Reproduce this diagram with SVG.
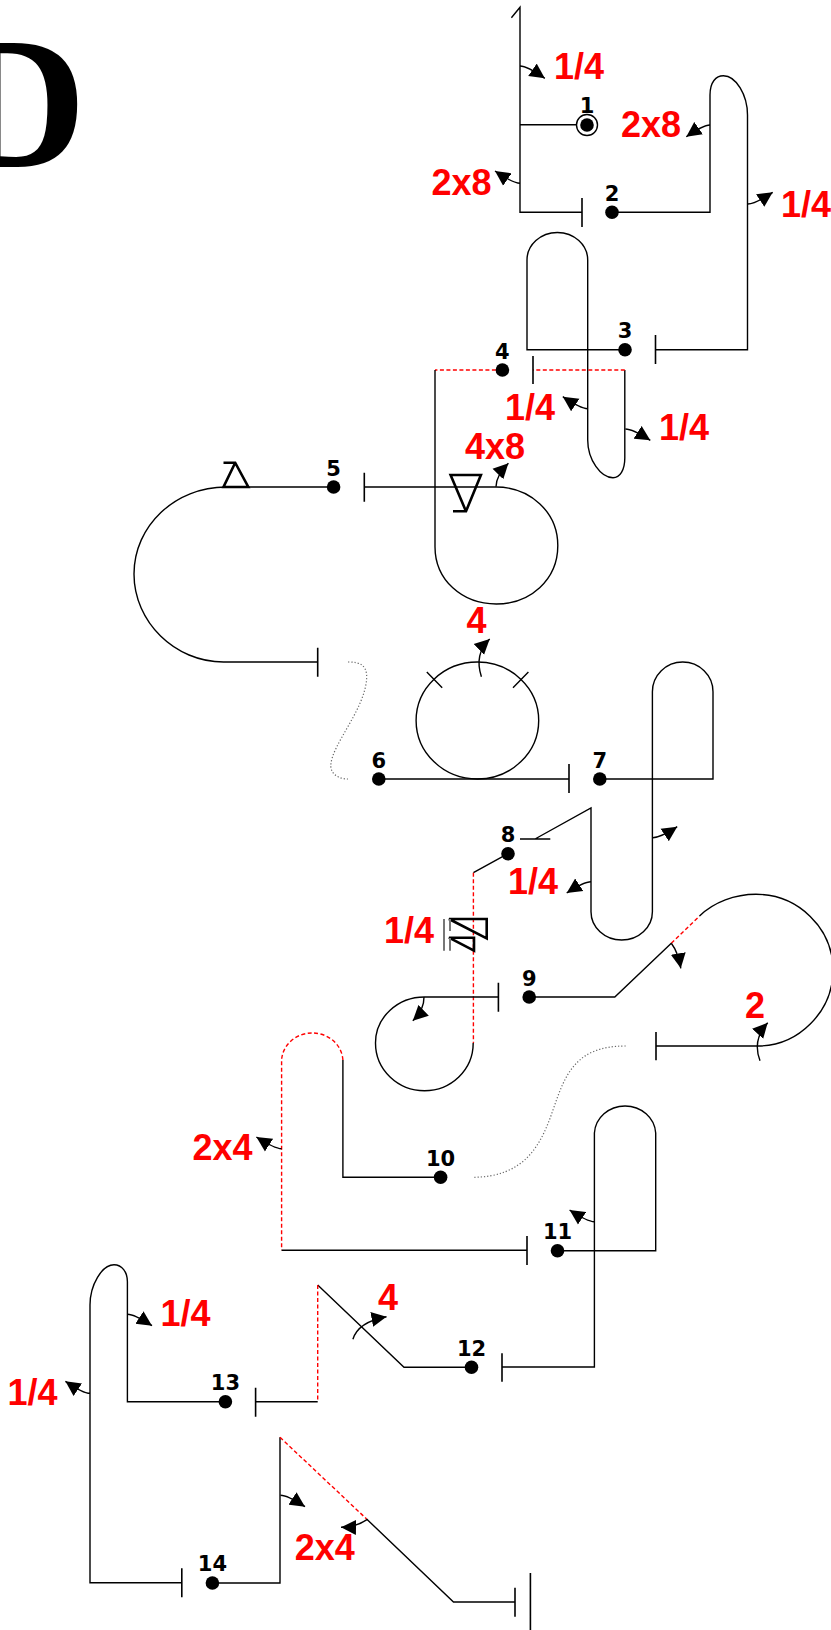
<svg xmlns="http://www.w3.org/2000/svg" width="831" height="1630" viewBox="0 0 831 1630">
<style>
.l{fill:none;stroke:#000;stroke-width:1.4}
.t{fill:none;stroke:#000;stroke-width:1.6}
.g{fill:none;stroke:#000;stroke-width:2.6}
.r{fill:none;stroke:#f00;stroke-width:1.4;stroke-dasharray:4 2.5}
.d{fill:none;stroke:#666;stroke-width:1.2;stroke-dasharray:1.2 2}
.a{fill:none;stroke:#000;stroke-width:1.4;marker-end:url(#h)}
.n{font:bold 21px "DejaVu Sans",sans-serif;fill:#000;text-anchor:middle}
.v{font:bold 36px "Liberation Sans",Arial,sans-serif;fill:#f00}
</style>
<defs>
<marker id="h" markerUnits="userSpaceOnUse" markerWidth="16" markerHeight="16" viewBox="0 0 16 16" refX="15" refY="8" orient="auto">
<path d="M0 0.5L15 8L0 15.5Z" fill="#000"/>
</marker>
</defs>
<rect width="831" height="1630" fill="#fff"/>
<text transform="translate(-46.3 166.7) scale(.97 1)" font-family="'Liberation Serif',serif" font-weight="bold" font-size="189" fill="#000">D</text>
<g id="connectors">
<path class="l" d="M511.4 17.7L520 7.3V212.3H582M520 124.7H587M612 212.3H710V95C710 82 716 75.7 723.4 75.7C736 75.7 747.5 95 747.5 115V349.7H655.5"/>
<path class="l" d="M625 349.7H527V260A30.3 27.5 0 0 1 587.7 260V440C587.7 460 601 477.7 613 477.7C620 477.7 624.8 470 624.8 458V370"/>
<path class="r" d="M624.8 370H533M502.4 370H435"/>
<path class="l" d="M435 370V546.7C435 580 462 604 496.3 604C530 604 557.8 580 557.8 545.5C557.8 512 530 487 496 487H364.3M333.6 487H226C175 487 134 526 134 574C134 622 175 662 223.5 662H317.7"/>
<path class="d" d="M348 662C360 662 367 665 366.7 678C365 710 331 745 330.8 766C331 775 340 779 348 779"/>
<ellipse class="l" cx="477.4" cy="720.5" rx="61.3" ry="58.5"/>
<path class="l" d="M426.8 672L442.2 687.7M528.4 672L513 687.7"/>
<path class="l" d="M378.8 779H569M599.8 779H713V691.7A30.3 29.7 0 0 0 652.4 691.7V911.7A30.7 28.3 0 0 1 591 911.7V808L535 839M520 839H550.3M508 853.7L473.4 872.7"/>
<path class="r" d="M473.4 872.7V1043"/>
<path class="l" d="M473.2 1043C473.2 1070 451 1090.7 424.5 1090.7C398 1090.7 375.5 1070 375.5 1043C375.5 1017 398 997 424.5 997H498.4M529.2 997H614.8L671.3 943.3"/>
<path class="r" d="M671.3 943.3L699.5 916"/>
<path class="l" d="M699.5 916C714 902 735 894.3 756 894.3C798 894.3 833 928 833 970C833 1012 798 1046 758 1046H656"/>
<path class="d" d="M625.7 1046C575 1046 565 1075 553 1110C541 1145 525 1177.3 472.3 1177.3"/>
<path class="r" d="M342.9 1060A30.7 28.7 0 0 0 281.6 1060V1250.3"/>
<path class="l" d="M342.9 1060V1177.3H440.6M281.6 1250.3H527M557.5 1250.7H655.7V1133A30.7 28.7 0 0 0 594.4 1133V1367H502M471.5 1367.3H404L317.7 1285"/>
<path class="r" d="M317.7 1285V1401.7"/>
<path class="l" d="M317.7 1401.7H255.6M225.4 1401.7H127.4V1281.7C127.4 1272 122 1264.7 114 1264.7C102 1264.7 90 1285 90 1305V1582.7H181.8M212.4 1583H280V1437.3"/>
<path class="r" d="M280 1437.3L366.6 1519"/>
<path class="l" d="M366.6 1519L453.5 1602H515"/>
<g id="ticks">
<path class="t" d="M582 198V227M655.5 335V364M533 356V384M364.3 472.7V501.7M317.7 647.7V676.7M569 764V793M498.4 982.7V1011.7M656 1032V1060.3M527 1236V1265M502 1353.3V1381.7M255.6 1387.7V1416.7M181.8 1568.3V1597.3M515 1587.7V1616.7M530.4 1573V1630"/>
</g>
<g id="triangles">
<path class="g" d="M223.5 462.7H235.2L248.3 487H223.5L235.2 462.7"/>
<path class="g" d="M453 511.3H466L480.9 475H450.6L466 511.3"/>
<path class="g" d="M449 919H486.7V938.3ZM449 937.7H474V950.7Z"/>
<path fill="none" stroke="#777" stroke-width="2" d="M444 919V950.7M450 919V931M450 938V950.7"/>
</g>
<g id="arrows">
<path class="a" d="M520 66Q527 66 544.8 78.3"/>
<path class="a" d="M710 125Q703 125 686.3 136.7"/>
<path class="a" d="M520 183.3Q513 183.3 495 171"/>
<path class="a" d="M747.8 204Q755 204 772.7 192.3"/>
<path class="a" d="M587.7 408.7Q580.7 408.7 562.8 396.7"/>
<path class="a" d="M625.4 429Q632.4 429 650.3 440.3"/>
<path class="a" d="M496 486.7Q496 476 508.4 463.3"/>
<path class="a" d="M481.4 676.7Q474 654 489.7 639"/>
<path class="a" d="M652.4 837.7Q660 838 677.2 826.7"/>
<path class="a" d="M591 881.7Q584 881.7 566.7 893"/>
<path class="a" d="M424 997Q424 1010 412.8 1020.7"/>
<path class="a" d="M671.3 943.3Q678 952 680.8 968.3"/>
<path class="a" d="M760 1060.7Q752 1040 767.7 1022.7"/>
<path class="a" d="M281.6 1148.7Q274.6 1148.7 256.4 1137"/>
<path class="a" d="M594.4 1221.7Q587.4 1221.7 569.6 1210"/>
<path class="a" d="M127.4 1314.3Q134.4 1314.3 152 1325.7"/>
<path class="a" d="M90 1393.3Q83 1393.3 65.4 1381.3"/>
<path class="a" d="M352.9 1339.3Q358 1322 386.5 1316.7"/>
<path class="a" d="M280.5 1495.3Q287.5 1495.3 305 1506.7"/>
<path class="a" d="M367.4 1519.3Q355 1527.5 341 1527.3"/>
</g>
</g>
<g id="node-1"><circle cx="587" cy="125" r="10.5" fill="#fff" stroke="#000" stroke-width="1.4"/><circle cx="587" cy="125" r="6.8"/><text class="n" x="587" y="113">1</text></g>
<g id="node-2"><circle cx="612" cy="212.3" r="6.8"/><text class="n" x="612" y="201">2</text></g>
<g id="node-3"><circle cx="625" cy="349.7" r="6.8"/><text class="n" x="625" y="338">3</text></g>
<g id="node-4"><circle cx="502.4" cy="370" r="6.8"/><text class="n" x="502.4" y="359">4</text></g>
<g id="node-5"><circle cx="333.6" cy="487" r="6.8"/><text class="n" x="333.6" y="476">5</text></g>
<g id="node-6"><circle cx="378.8" cy="779" r="6.8"/><text class="n" x="378.8" y="768">6</text></g>
<g id="node-7"><circle cx="599.8" cy="779" r="6.8"/><text class="n" x="599.8" y="768">7</text></g>
<g id="node-8"><circle cx="508" cy="853.7" r="6.8"/><text class="n" x="508" y="842">8</text></g>
<g id="node-9"><circle cx="529.2" cy="997" r="6.8"/><text class="n" x="529.2" y="985.5">9</text></g>
<g id="node-10"><circle cx="440.6" cy="1177.3" r="6.8"/><text class="n" x="440.6" y="1166">10</text></g>
<g id="node-11"><circle cx="557.5" cy="1250.7" r="6.8"/><text class="n" x="557.5" y="1239">11</text></g>
<g id="node-12"><circle cx="471.5" cy="1367.3" r="6.8"/><text class="n" x="471.5" y="1355.5">12</text></g>
<g id="node-13"><circle cx="225.4" cy="1401.7" r="6.8"/><text class="n" x="225.4" y="1390">13</text></g>
<g id="node-14"><circle cx="212.4" cy="1583" r="6.8"/><text class="n" x="212.4" y="1571">14</text></g>
<g id="labels">
<text class="v" x="554" y="78.7">1/4</text>
<text class="v" x="621" y="137">2x8</text>
<text class="v" x="431.4" y="195.3">2x8</text>
<text class="v" x="781" y="216.7">1/4</text>
<text class="v" x="505" y="420">1/4</text>
<text class="v" x="659" y="440.3">1/4</text>
<text class="v" x="465" y="458.7">4x8</text>
<text class="v" x="466.4" y="633.3">4</text>
<text class="v" x="507.9" y="893.7">1/4</text>
<text class="v" x="384" y="943">1/4</text>
<text class="v" x="745" y="1017.7">2</text>
<text class="v" x="192.4" y="1160.3">2x4</text>
<text class="v" x="377.9" y="1309.7">4</text>
<text class="v" x="160.5" y="1326.3">1/4</text>
<text class="v" x="7.4" y="1405.3">1/4</text>
<text class="v" x="294.8" y="1560.3">2x4</text>
</g>
</svg>
